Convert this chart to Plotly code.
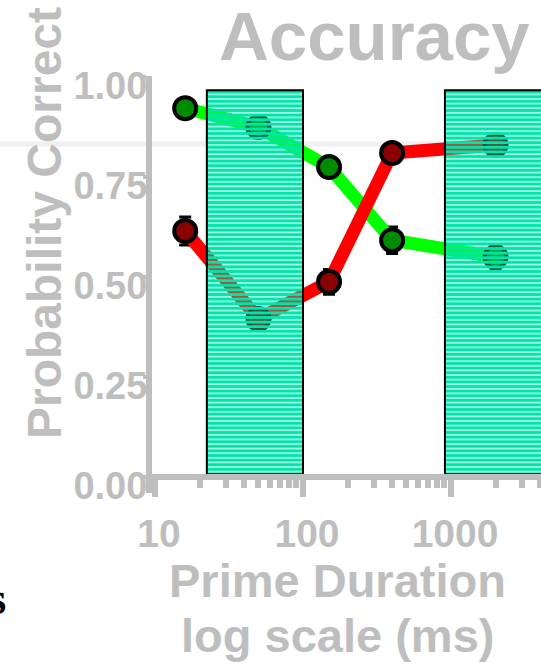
import plotly.graph_objects as go

# ---------------- data ----------------
durations = [16, 50, 150, 400, 2000]
green_acc = [0.922, 0.875, 0.775, 0.592, 0.550]
green_err = [0.020, 0.024, 0.020, 0.033, 0.029]
red_acc = [0.615, 0.395, 0.488, 0.810, 0.830]
red_err = [0.035, 0.023, 0.031, 0.020, 0.024]
band_starts = [22.4, 910]
band_ends = [100, 10000]
band_bottom = 0.007
band_top = 0.967
ref_value = 0.8325
y_ticks = [0, 0.25, 0.5, 0.75, 1.0]
y_tick_labels = ["0.00", "0.25", "0.50", "0.75", "1.00"]
x_ticks = [10, 100, 1000]
x_tick_labels = ["10", "100", "1000"]
x_minor = [20, 30, 40, 50, 60, 70, 80, 90,
           200, 300, 400, 500, 600, 700, 800, 900,
           2000, 3000, 4000]

# ---------------- layout geometry (pixels) ----------------
W, H = 541, 668
PL, PR, PT, PB = 152, 541, 76, 493
GREY = "#BEBEBE"
FONT = "Liberation Sans"

def px_x(p):
    return (p - PL) / (PR - PL)

def px_y(p):
    return (PB - p) / (PB - PT)

fig = go.Figure()

# data lines with markers
for acc, err, lc, mc in [(green_acc, green_err, "#00FF00", "#008B00"),
                         (red_acc, red_err, "#FF0000", "#8B0000")]:
    fig.add_trace(go.Scatter(
        x=durations, y=acc, mode="lines+markers",
        line=dict(color=lc, width=13),
        marker=dict(size=22, color=mc, line=dict(color="black", width=4)),
        error_y=dict(type="data", array=err, color="black", thickness=3, width=6),
        showlegend=False, hoverinfo="skip",
    ))

# striped bands drawn over the data
for x0, x1 in zip(band_starts, band_ends):
    fig.add_trace(go.Scatter(
        x=[x0, x1, x1, x0, x0],
        y=[band_bottom, band_bottom, band_top, band_top, band_bottom],
        mode="lines", fill="toself",
        fillcolor="rgba(0,0,0,0)",
        fillpattern=dict(shape="-", fgcolor="#00E6AA", bgcolor="rgba(0,0,0,0)",
                         size=4.6, solidity=0.75, fillmode="replace"),
        line=dict(color="black", width=2),
        showlegend=False, hoverinfo="skip",
    ))

# faint horizontal reference line running into the margin
fig.add_shape(type="line", xref="paper", yref="paper",
              x0=-0.5, x1=1.5,
              y0=px_y(477 - ref_value * 400), y1=px_y(477 - ref_value * 400),
              line=dict(color="#F0F0F0", width=5), layer="below")

annotations = [
    dict(text="Accuracy", x=px_x(374), y=px_y(37), xanchor="center", yanchor="middle",
         font=dict(family=FONT, size=69, color=GREY, weight="bold")),
    dict(text="Probability Correct", x=px_x(44), y=px_y(223), textangle=-90,
         xanchor="center", yanchor="middle",
         font=dict(family=FONT, size=48, color=GREY, weight="bold")),
    dict(text="Prime Duration", x=px_x(337.5), y=px_y(580), xanchor="center", yanchor="middle",
         font=dict(family=FONT, size=47, color=GREY, weight="bold")),
    dict(text="log scale (ms)", x=px_x(337.5), y=px_y(635), xanchor="center", yanchor="middle",
         font=dict(family=FONT, size=47, color=GREY, weight="bold")),
    dict(text="s", x=px_x(8), y=px_y(598), xanchor="right", yanchor="middle",
         font=dict(family="Liberation Serif", size=47, color="black", weight="bold")),
]
for a in annotations:
    a.update(xref="paper", yref="paper", showarrow=False)

fig.update_layout(
    width=W, height=H, autosize=False,
    margin=dict(l=PL, r=W - PR, t=PT, b=H - PB, pad=0),
    paper_bgcolor="white", plot_bgcolor="white",
    showlegend=False,
    annotations=annotations,
    xaxis=dict(
        type="log", range=[0.9797, 3.6081],
        anchor="free", position=px_y(477),
        showgrid=False, zeroline=False,
        showline=True, linecolor=GREY, linewidth=6,
        tickmode="array", tickvals=x_ticks, ticktext=x_tick_labels,
        ticks="outside", ticklen=17, tickwidth=6, tickcolor=GREY,
        tickfont=dict(family=FONT, size=39, color=GREY, weight="bold"),
        ticklabelshift=4, ticklabelstandoff=3,
        minor=dict(tickmode="array", tickvals=x_minor, ticks="outside",
                   ticklen=8, tickwidth=6, tickcolor=GREY, showgrid=False),
        automargin=False,
    ),
    yaxis=dict(
        range=[-0.04, 1.0025],
        showgrid=False, zeroline=False,
        showline=True, linecolor=GREY, linewidth=6,
        tickmode="array", tickvals=y_ticks, ticktext=y_tick_labels,
        ticks="outside", ticklen=3, tickwidth=4, tickcolor=GREY,
        tickfont=dict(family=FONT, size=38, color=GREY, weight="bold"),
        ticklabelshift=9, ticklabelstandoff=-12,
        automargin=False,
    ),
)

fig.write_html("out.html")
